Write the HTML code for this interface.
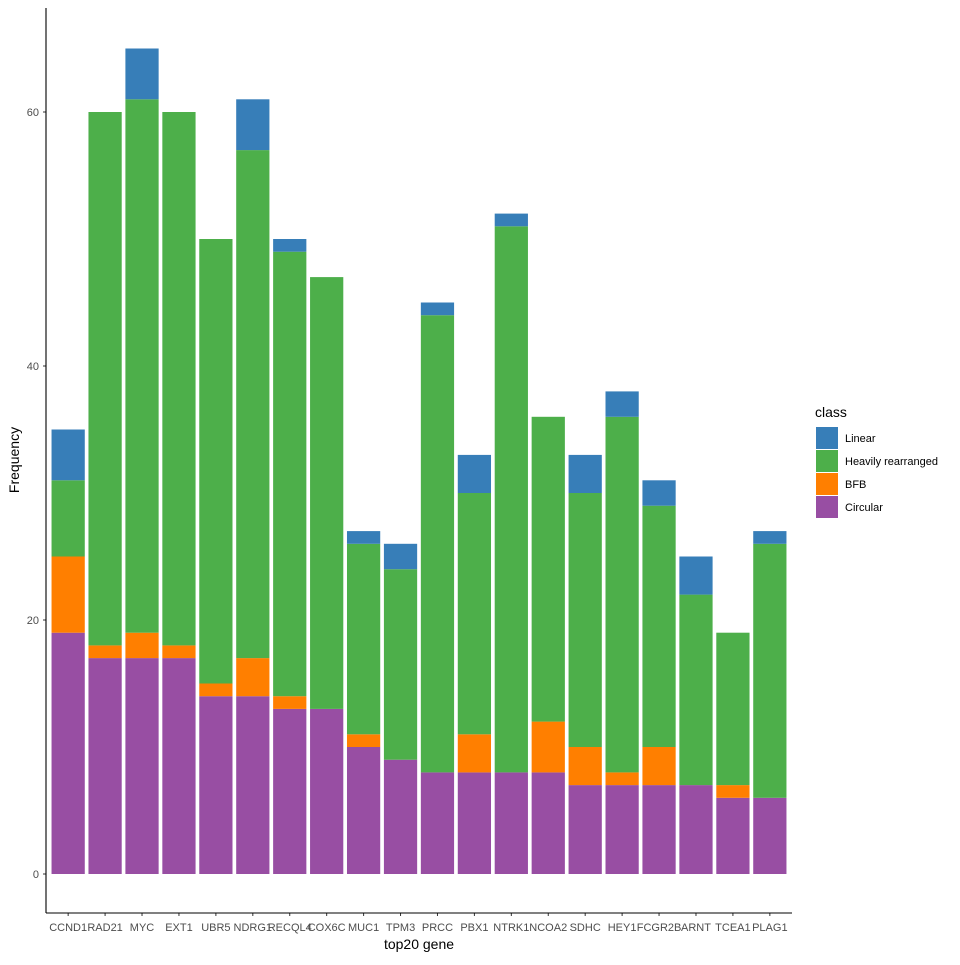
<!DOCTYPE html>
<html><head><meta charset="utf-8"><style>
body{margin:0;background:#fff;font-family:"Liberation Sans",sans-serif}
</style></head><body>
<svg id="chart" width="960" height="960" xmlns="http://www.w3.org/2000/svg"></svg>
<script>
const genes=["CCND1","RAD21","MYC","EXT1","UBR5","NDRG1","RECQL4","COX6C","MUC1","TPM3","PRCC","PBX1","NTRK1","NCOA2","SDHC","HEY1","FCGR2B","ARNT","TCEA1","PLAG1"];
const circular=[19,17,17,17,14,14,13,13,10,9,8,8,8,8,7,7,7,7,6,6];
const bfb=[6,1,2,1,1,3,1,0,1,0,0,3,0,4,3,1,3,0,1,0];
const heavy=[6,42,42,42,35,40,35,34,15,15,36,19,43,24,20,28,19,15,12,20];
const linear=[4,0,4,0,0,4,1,0,1,2,1,3,1,0,3,2,2,3,0,1];
const yTicks=[0,20,40,60];
const seriesNames=["Circular","BFB","Heavily rearranged","Linear"];
const seriesVals=[circular,bfb,heavy,linear];
const colors=["#984EA3","#FF7F00","#4DAF4A","#377EB8"];
const svg=document.getElementById('chart');
const NS="http://www.w3.org/2000/svg";
const L=46,R=792,T=8,B=913;
const y0=874,ppu=12.7;
const yS=v=>y0-v*ppu;
const bw=(R-L)/(genes.length+0.2);
const xS=i=>L+(i+0.6)*bw;
function mk(t,a,txt){const e=document.createElementNS(NS,t);for(const k in a)e.setAttribute(k,a[k]);if(txt!=null)e.textContent=txt;svg.appendChild(e);return e;}
genes.forEach((g,i)=>{
  let base=0;
  seriesVals.forEach((s,j)=>{
    const v=s[i];
    if(v>0){
      const r=mk('rect',{x:xS(i)-bw*0.45,y:yS(base+v),width:bw*0.9,height:v*ppu,fill:colors[j]});
      
      
    }
    base+=v;
  });
  const t=mk('text',{x:xS(i),y:931,'text-anchor':'middle','font-size':11,fill:'#4d4d4d'},g);
  
  
  mk('line',{x1:xS(i),x2:xS(i),y1:B,y2:B+3,stroke:'#333'});
});
yTicks.forEach(v=>{
  const t=mk('text',{x:39,y:yS(v)+4,'text-anchor':'end','font-size':11,fill:'#4d4d4d'},v);
  
  
  mk('line',{x1:L-3,x2:L,y1:yS(v),y2:yS(v),stroke:'#333'});
});
let a=mk('line',{x1:L,x2:L,y1:T,y2:B,stroke:'#000','stroke-width':1.1});

a=mk('line',{x1:L,x2:R,y1:B,y2:B,stroke:'#000','stroke-width':1.1});

let t=mk('text',{x:(L+R)/2,y:949,'text-anchor':'middle','font-size':14,fill:'#000'},'top20 gene');

t=mk('text',{x:19,y:460,'text-anchor':'middle','font-size':14,fill:'#000',transform:'rotate(-90 19 460)'},'Frequency');

t=mk('text',{x:815,y:417,'font-size':14,fill:'#000'},'class');

const legOrder=[3,2,1,0];
legOrder.forEach((j,k)=>{
  const y=427+k*23;
  const r=mk('rect',{x:816,y:y,width:22,height:22,fill:colors[j]});
  
  
  const tt=mk('text',{x:845,y:y+15,'font-size':11,fill:'#000'},seriesNames[j]);
  
  
});
</script>
</body></html>
